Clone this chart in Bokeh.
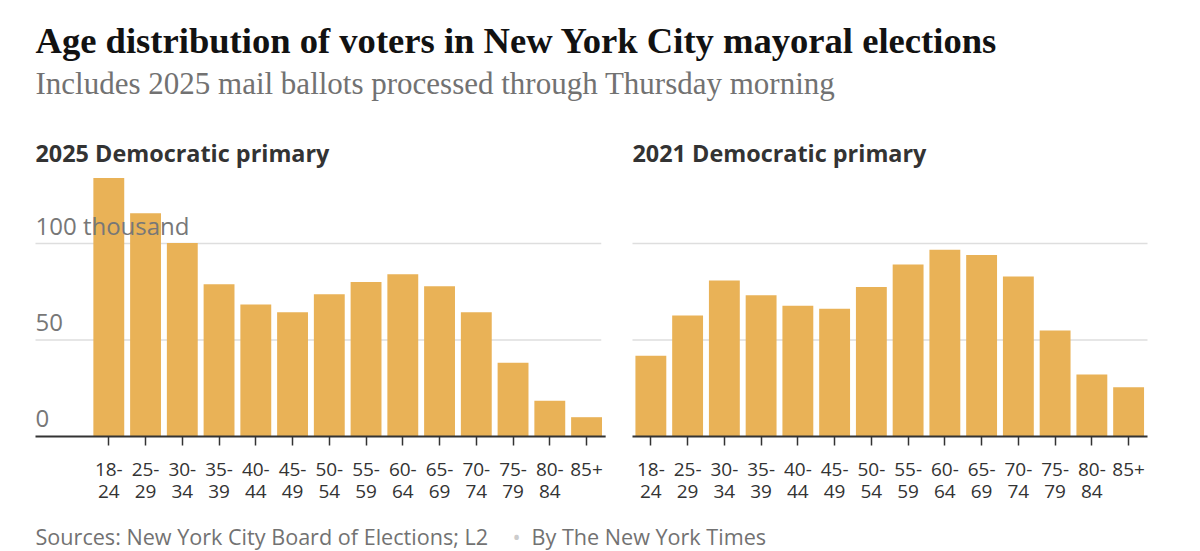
from bokeh.plotting import figure
from bokeh.models import Range1d, FixedTicker, Label
from bokeh.core.properties import value
from bokeh.embed import file_html
from bokeh.resources import INLINE

# ---------------- data ----------------
age_groups = ["18-24", "25-29", "30-34", "35-39", "40-44", "45-49", "50-54",
              "55-59", "60-64", "65-69", "70-74", "75-79", "80-84", "85+"]
tick_labels = ["18-\n24", "25-\n29", "30-\n34", "35-\n39", "40-\n44", "45-\n49", "50-\n54",
               "55-\n59", "60-\n64", "65-\n69", "70-\n74", "75-\n79", "80-\n84", "85+"]
voters_2025 = [134.0, 115.7, 100.3, 78.9, 68.4, 64.4, 73.7, 80.1, 84.1, 77.9, 64.4, 38.2, 18.5, 10.0]
voters_2021 = [41.8, 62.7, 80.8, 73.2, 67.7, 66.2, 77.4, 89.1, 96.7, 94.1, 82.9, 54.9, 32.1, 25.5]
grid_values = [50, 100]
value_label_positions = [0, 50, 100]
value_labels = ["0", "50", "100 thousand"]
panel_titles = ["2025 Democratic primary", "2021 Democratic primary"]
title_text = "Age distribution of voters in New York City mayoral elections"
subtitle_text = "Includes 2025 mail ballots processed through Thursday morning"
source_text = "Sources: New York City Board of Elections; L2"
byline_text = "By The New York Times"

# ---------------- layout ----------------
W, H = 1200, 551
STEP_PX = 36.75          # pixels per category
ORIGIN_PX = 108.3        # page x of first category centre
PX_PER_K = 1.93          # pixels per thousand voters
ZERO_PY = 436            # page y of zero
RIGHT_OFFSET = 14.75     # category offset of the second panel
BAR_W = 0.84
BASELINE_SHIFT = 0.4     # em correction for text baseline placement

def px_to_x(px):
    return (px - ORIGIN_PX) / STEP_PX

def py_to_y(py):
    return (ZERO_PY - py) / PX_PER_K

def text_y(baseline_py, size_px):
    return py_to_y(baseline_py - BASELINE_SHIFT * size_px)

X_START = px_to_x(0)
X_END = px_to_x(W)
Y_START = py_to_y(H)
Y_END = py_to_y(0)
PANEL_LEFT = px_to_x(35)

BAR_COLOR = "#e9b257"
GREY = "#777777"
DARK = "#333333"

p = figure(width=W, height=H, output_backend="svg", toolbar_location=None,
           x_range=Range1d(X_START, X_END), y_range=Range1d(Y_START, Y_END),
           min_border=0, min_border_left=0, min_border_right=0,
           min_border_top=0, min_border_bottom=0,
           y_axis_location=None, background_fill_color="white", border_fill_color="white")
p.outline_line_color = None
p.xgrid.visible = False
p.ygrid.visible = False

left_x = [i for i in range(len(age_groups))]
right_x = [RIGHT_OFFSET + i for i in range(len(age_groups))]

left_panel = (PANEL_LEFT, 13.4)
right_panel = (RIGHT_OFFSET - 0.5, px_to_x(1147))

# gridlines (behind bars)
gx0, gx1, gy = [], [], []
for g in grid_values:
    gx0 += [left_panel[0], right_panel[0]]
    gx1 += [left_panel[1], right_panel[1]]
    gy += [g, g]
p.segment(x0=gx0, x1=gx1, y0=gy, y1=gy, line_color="#dedede", line_width=1.5)

# bars
p.vbar(x=left_x, top=voters_2025, bottom=0, width=BAR_W, fill_color=BAR_COLOR, line_color=None)
p.vbar(x=right_x, top=voters_2021, bottom=0, width=BAR_W, fill_color=BAR_COLOR, line_color=None)

# baselines
p.segment(x0=[left_panel[0], right_panel[0]], x1=[13.52, right_panel[1]], y0=[0, 0], y1=[0, 0],
          line_color=DARK, line_width=2)

# value labels inside the first panel
VAL_SIZE = 24
p.text(x=[PANEL_LEFT] * len(value_labels), y=value_label_positions, text=value_labels,
       text_font=value("Open Sans"), text_font_size=f"{VAL_SIZE}px", text_color=GREY,
       text_baseline="alphabetic", text_align="left",
       y_offset=-(8 + BASELINE_SHIFT * VAL_SIZE))

# x axis, fixed at zero
ax = p.xaxis[0]
ax.fixed_location = 0
ax.ticker = FixedTicker(ticks=left_x + right_x)
overrides = {}
for xs in (left_x, right_x):
    for xv, lab in zip(xs, tick_labels):
        overrides[xv] = lab
ax.major_label_overrides = overrides
ax.axis_line_color = None
ax.major_tick_line_color = DARK
ax.major_tick_line_width = 1.5
ax.major_tick_out = 9
ax.major_tick_in = 0
ax.minor_tick_line_color = None
ax.major_label_text_font = "Open Sans"
ax.major_label_text_font_size = "19px"
ax.major_label_text_line_height = 0.88
ax.major_label_text_color = DARK
ax.major_label_standoff = 10

# titles
p.add_layout(Label(x=PANEL_LEFT, y=text_y(55, 36.6), text=title_text, text_font="Liberation Serif",
                   text_font_style="bold", text_font_size="36.6px", text_color="#121212",
                   text_baseline="alphabetic"))
p.add_layout(Label(x=PANEL_LEFT, y=text_y(95, 31), text=subtitle_text, text_font="Liberation Serif",
                   text_font_size="31px", text_color="#727272", text_baseline="alphabetic"))
for xpos, t in zip([PANEL_LEFT, RIGHT_OFFSET - 0.5], panel_titles):
    p.add_layout(Label(x=xpos, y=text_y(162, 23.4), text=t, text_font="Open Sans",
                       text_font_style="bold", text_font_size="23.4px", text_color=DARK,
                       text_baseline="alphabetic"))

# footer
FOOT_PY = 545
FOOT_SIZE = 21.6
p.add_layout(Label(x=PANEL_LEFT, y=text_y(FOOT_PY, FOOT_SIZE), text=source_text, text_font="Open Sans",
                   text_font_size=f"{FOOT_SIZE}px", text_color="#727272", text_baseline="alphabetic"))
p.add_layout(Label(x=px_to_x(516), y=text_y(FOOT_PY, FOOT_SIZE), text="\u2022", text_font="Open Sans",
                   text_font_size=f"{FOOT_SIZE}px", text_color="#cccccc", text_baseline="alphabetic",
                   text_align="center"))
p.add_layout(Label(x=px_to_x(531), y=text_y(FOOT_PY, FOOT_SIZE), text=byline_text, text_font="Open Sans",
                   text_font_size=f"{FOOT_SIZE}px", text_color="#727272", text_baseline="alphabetic"))

open("out.html", "w").write(file_html(p, INLINE))
